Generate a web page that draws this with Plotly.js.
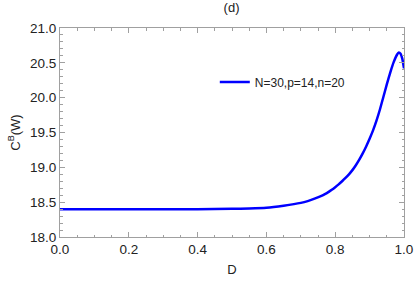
<!DOCTYPE html>
<html>
<head>
<meta charset="utf-8">
<script src="https://cdn.plot.ly/plotly-3.0.1.min.js"></script>
<style>html,body{margin:0;padding:0;background:#fff;}#chart{width:415px;height:284px;}</style>
</head>
<body>
<div id="chart"></div>
<script>
const dValues = [0, 0.1, 0.2, 0.3, 0.4, 0.5, 0.55, 0.6, 0.65, 0.7, 0.72, 0.74, 0.76, 0.77, 0.78, 0.79, 0.8, 0.81, 0.82, 0.83, 0.84, 0.85, 0.86, 0.87, 0.88, 0.89, 0.9, 0.91, 0.92, 0.93, 0.94, 0.95, 0.96, 0.97, 0.98, 0.985, 0.99, 0.995, 1.0];
const cValues = [18.40, 18.40, 18.40, 18.40, 18.40, 18.405, 18.41, 18.42, 18.45, 18.49, 18.515, 18.55, 18.59, 18.615, 18.645, 18.678, 18.715, 18.755, 18.80, 18.848, 18.90, 18.96, 19.03, 19.11, 19.20, 19.30, 19.41, 19.53, 19.67, 19.83, 20.01, 20.19, 20.36, 20.51, 20.62, 20.65, 20.63, 20.56, 20.42];
const seriesName = "N=30,p=14,n=20";
const xTicks = [0, 0.2, 0.4, 0.6, 0.8, 1.0];
const xTickText = ["0.0", "0.2", "0.4", "0.6", "0.8", "1.0"];
const yTicks = [18.0, 18.5, 19.0, 19.5, 20.0, 20.5, 21.0];
const yTickText = ["18.0", "18.5", "19.0", "19.5", "20.0", "20.5", "21.0"];

const fam = "Liberation Sans, Arial, sans-serif";
const tickFont = {family: fam, size: 13.5, color: "#222"};
const titleFont = {family: fam, size: 13, color: "#222"};
const axisCommon = {
  showgrid: false, zeroline: false, showline: true, linecolor: "#a0a0a0", linewidth: 1,
  mirror: "ticks", ticks: "inside", ticklen: 5, tickcolor: "#a0a0a0", tickwidth: 1,
  tickfont: tickFont
};
Plotly.newPlot("chart", [{
  x: dValues, y: cValues, type: "scatter", mode: "lines", name: seriesName,
  line: {color: "#0000ff", width: 2.5, shape: "spline", smoothing: 0.6}
}], {
  width: 415, height: 284,
  margin: {l: 60, r: 11, t: 28, b: 47},
  paper_bgcolor: "#fff", plot_bgcolor: "#fff",
  font: titleFont,
  title: {text: "(d)", x: 0.558, xanchor: "center", y: 0.99, yanchor: "top", font: titleFont},
  showlegend: true,
  legend: {x: 0.45, y: 0.742, xanchor: "left", yanchor: "middle", bgcolor: "rgba(0,0,0,0)", font: {family: fam, size: 12, color: "#222"}},
  xaxis: Object.assign({}, axisCommon, {
    range: [0, 1], tickvals: xTicks, ticktext: xTickText,
    minor: {dtick: 0.05, ticklen: 2.5, tickcolor: "#a0a0a0", ticks: "inside"},
    title: {text: "D", font: titleFont, standoff: 8}
  }),
  yaxis: Object.assign({}, axisCommon, {
    range: [18, 21], tickvals: yTicks, ticktext: yTickText,
    minor: {dtick: 0.1, ticklen: 2.5, tickcolor: "#a0a0a0", ticks: "inside"},
    title: {text: "C<sup>B</sup>(W)", font: titleFont, standoff: 6}
  })
}, {displayModeBar: false, staticPlot: true});
</script>
</body>
</html>
